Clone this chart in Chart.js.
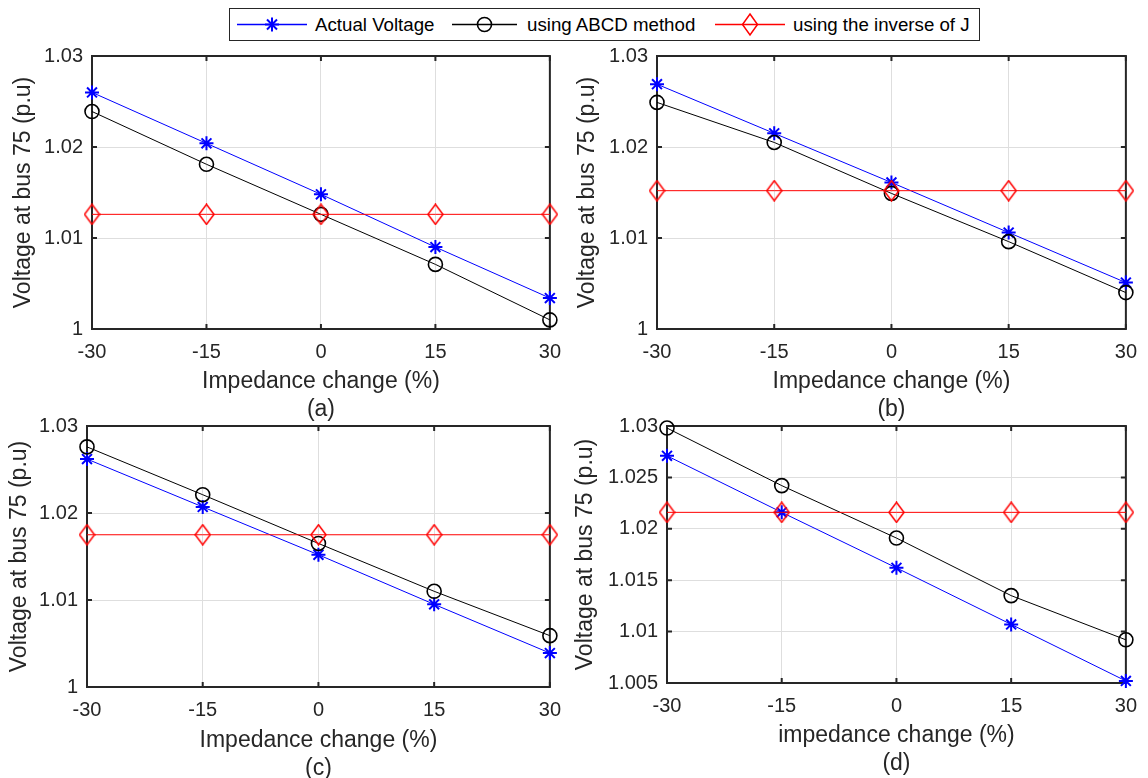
<!DOCTYPE html>
<html>
<head>
<meta charset="utf-8">
<script src="https://cdn.jsdelivr.net/npm/chart.js@4.4.1/dist/chart.umd.min.js"></script>
<style>
  body { margin: 0; background: #fff; width: 1148px; height: 778px; position: relative; overflow: hidden;
         font-family: "Liberation Sans", Arial, sans-serif; color: #262626; }
  canvas { position: absolute; }
  #legend { position: absolute; left: 229px; top: 8px; width: 751px; height: 33px; box-sizing: border-box;
            border: 1px solid #262626; background: #fff; z-index: 5; }
  #legend svg, #legend span { position: absolute; }
  #legend span { top: 0; line-height: 31px; font-size: 18.7px; white-space: nowrap; color: #000; }
</style>
</head>
<body>
<div id="legend"></div>
<canvas id="chartA"></canvas>
<canvas id="chartB"></canvas>
<canvas id="chartC"></canvas>
<canvas id="chartD"></canvas>
<script>
// --- data ---
const impedanceChange = [-30, -15, 0, 15, 30];
const xTicks = [-30, -15, 0, 15, 30];
const yTicksABC = [1, 1.01, 1.02, 1.03];
const yTicksD = [1.005, 1.01, 1.015, 1.02, 1.025, 1.03];

const seriesNames = ['Actual Voltage', 'using ABCD method', 'using the inverse of J'];
const yTitle = 'Voltage at bus 75 (p.u)';
const xTitles = ['Impedance change (%)', 'Impedance change (%)', 'Impedance change (%)', 'impedance change (%)'];
const captions = ['(a)', '(b)', '(c)', '(d)'];

const actualA   = [1.0260, 1.0204, 1.0148, 1.0090, 1.0034];
const abcdA     = [1.0239, 1.0181, 1.0126, 1.0071, 1.0010];
const inverseA  = [1.0126, 1.0126, 1.0126, 1.0126, 1.0126];

const actualB   = [1.0269, 1.0215, 1.0161, 1.0106, 1.0051];
const abcdB     = [1.0249, 1.0205, 1.0149, 1.0096, 1.0040];
const inverseB  = [1.0152, 1.0152, 1.0152, 1.0152, 1.0152];

const actualC   = [1.0262, 1.0207, 1.0152, 1.0095, 1.0039];
const abcdC     = [1.0276, 1.0221, 1.0165, 1.0110, 1.0059];
const inverseC  = [1.0175, 1.0175, 1.0175, 1.0175, 1.0175];

const actualD   = [1.0271, 1.0216, 1.0162, 1.0107, 1.0052];
const abcdD     = [1.0298, 1.0242, 1.0191, 1.0135, 1.0092];
const inverseD  = [1.0216, 1.0216, 1.0216, 1.0216, 1.0216];

// --- styling ---
const FONT = '"Liberation Sans", Arial, sans-serif';
const INK = '#262626';
const GRID = '#dedede';
const TITLE_LH = 28;

// MATLAB style diamond, a bit taller than wide
function diamondImage() {
    const c = document.createElement('canvas');
    c.width = 17; c.height = 22;
    const g = c.getContext('2d');
    g.strokeStyle = '#ff0000';
    g.lineWidth = 1.5;
    g.beginPath();
    g.moveTo(8.5, 1); g.lineTo(16, 11); g.lineTo(8.5, 21); g.lineTo(1, 11); g.closePath();
    g.stroke();
    return c;
}
const diamond = diamondImage();

// box round the axes plus inward ticks, like MATLAB
const boxPlugin = {
    id: 'box',
    beforeDatasetsDraw(chart) {
        const { ctx, chartArea: a, scales: { x, y } } = chart;
        ctx.save();
        ctx.strokeStyle = INK;
        ctx.lineWidth = 2;
        ctx.beginPath();
        x.ticks.forEach(t => {
            const px = x.getPixelForValue(t.value);
            ctx.moveTo(px, a.bottom); ctx.lineTo(px, a.bottom - 5);
            ctx.moveTo(px, a.top); ctx.lineTo(px, a.top + 5);
        });
        y.ticks.forEach(t => {
            const py = y.getPixelForValue(t.value);
            ctx.moveTo(a.left, py); ctx.lineTo(a.left + 5, py);
            ctx.moveTo(a.right, py); ctx.lineTo(a.right - 5, py);
        });
        ctx.stroke();
        ctx.strokeRect(a.left, a.top, a.right - a.left, a.bottom - a.top);
        ctx.restore();
    }
};

function fmt(v) { return String(+(+v).toFixed(4)); }

function makePanel(id, frame, plot, yTitleX, captionY, yTicks, actual, abcd, inverse, xTitle, caption) {
    const cv = document.getElementById(id);
    cv.width = frame.w; cv.height = frame.h;
    cv.style.left = frame.left + 'px';
    cv.style.top = frame.top + 'px';
    const frameBottom = frame.top + frame.h;
    const toPts = arr => arr.map((v, i) => ({ x: impedanceChange[i], y: v }));

    new Chart(cv, {
        type: 'line',
        data: {
            datasets: [{
                label: seriesNames[0], data: toPts(actual), order: 2,
                borderColor: '#0000ff', borderWidth: 1, backgroundColor: '#0000ff',
                pointStyle: 'star', pointRadius: 7, pointBorderWidth: 2, pointBorderColor: '#0000ff',
                clip: false
            }, {
                label: seriesNames[1], data: toPts(abcd), order: 1,
                borderColor: '#000000', borderWidth: 1, backgroundColor: 'rgba(0,0,0,0)',
                pointStyle: 'circle', pointRadius: 7, pointBorderWidth: 1.6, pointBorderColor: '#000000',
                clip: false
            }, {
                label: seriesNames[2], data: toPts(inverse), order: 0,
                borderColor: '#ff0000', borderWidth: 1, backgroundColor: 'rgba(0,0,0,0)',
                pointStyle: diamond, pointRadius: 8,
                clip: false
            }]
        },
        options: {
            responsive: false,
            animation: false,
            devicePixelRatio: 1,
            layout: { padding: { top: plot.top - frame.top, right: frame.left + frame.w - plot.right, left: 0, bottom: 0 } },
            plugins: { legend: { display: false }, tooltip: { enabled: false } },
            scales: {
                x: {
                    type: 'linear', min: -30, max: 30,
                    afterBuildTicks: s => { s.ticks = xTicks.map(v => ({ value: v })); },
                    afterFit: s => { s.height = frameBottom - plot.bottom; },
                    grid: { color: GRID, drawTicks: false },
                    border: { display: false },
                    ticks: { font: { family: FONT, size: 20 }, color: INK, padding: 11, maxRotation: 0, autoSkip: false },
                    title: {
                        display: true, text: [xTitle, caption], color: INK,
                        font: { family: FONT, size: 23, lineHeight: TITLE_LH / 23 },
                        padding: { top: 0, bottom: frameBottom - captionY - TITLE_LH / 2 }
                    }
                },
                y: {
                    type: 'linear', min: yTicks[0], max: yTicks[yTicks.length - 1],
                    afterBuildTicks: s => { s.ticks = yTicks.map(v => ({ value: v })); },
                    afterFit: s => { s.width = plot.left - frame.left; },
                    grid: { color: GRID, drawTicks: false },
                    border: { display: false },
                    ticks: { font: { family: FONT, size: 20 }, color: INK, padding: 9, callback: v => fmt(v) },
                    title: {
                        display: true, text: yTitle, color: INK,
                        font: { family: FONT, size: 23, lineHeight: TITLE_LH / 23 },
                        padding: { top: yTitleX - frame.left - TITLE_LH / 2, bottom: 0 }
                    }
                }
            }
        },
        plugins: [boxPlugin]
    });
}

makePanel('chartA', { left: 0, top: 20, w: 572, h: 410 }, { left: 92, top: 56, right: 553, bottom: 329 },
    24, 410, yTicksABC, actualA, abcdA, inverseA, xTitles[0], captions[0]);
makePanel('chartB', { left: 572, top: 20, w: 576, h: 410 }, { left: 657, top: 56, right: 1126, bottom: 329 },
    588, 410, yTicksABC, actualB, abcdB, inverseB, xTitles[1], captions[1]);
makePanel('chartC', { left: 0, top: 395, w: 572, h: 383 }, { left: 87, top: 426, right: 558, bottom: 687 },
    20, 769, yTicksABC, actualC, abcdC, inverseC, xTitles[2], captions[2]);
makePanel('chartD', { left: 572, top: 395, w: 576, h: 383 }, { left: 667, top: 426, right: 1135, bottom: 683 },
    586, 764, yTicksD, actualD, abcdD, inverseD, xTitles[3], captions[3]);

// --- legend (HTML, samples in SVG) ---
function legendSample(left, color, marker) {
    let m = '';
    if (marker === 'star') {
        m = `<g stroke="${color}" stroke-width="2">
               <line x1="35" y1="8.5" x2="35" y2="22.5"/><line x1="28" y1="15.5" x2="42" y2="15.5"/>
               <line x1="30" y1="10.5" x2="40" y2="20.5"/><line x1="30" y1="20.5" x2="40" y2="10.5"/></g>`;
    } else if (marker === 'circle') {
        m = `<circle cx="32.5" cy="15.5" r="7" fill="none" stroke="${color}" stroke-width="1.6"/>`;
    } else {
        m = `<polygon points="35,5 42.5,15.5 35,26 27.5,15.5" fill="none" stroke="${color}" stroke-width="1.5"/>`;
    }
    const w = marker === 'circle' ? 65 : 70;
    return `<svg style="left:${left}px;top:0" width="${w}" height="31">
              <line x1="0" y1="15.5" x2="${w}" y2="15.5" stroke="${color}" stroke-width="1.3"/>${m}</svg>`;
}
const legendEl = document.getElementById('legend');
legendEl.innerHTML =
    legendSample(7, '#0000ff', 'star') + `<span style="left:85px">${seriesNames[0]}</span>` +
    legendSample(222, '#000000', 'circle') + `<span style="left:297px">${seriesNames[1]}</span>` +
    legendSample(485, '#ff0000', 'diamond') + `<span style="left:563px">${seriesNames[2]}</span>`;
</script>
</body>
</html>
